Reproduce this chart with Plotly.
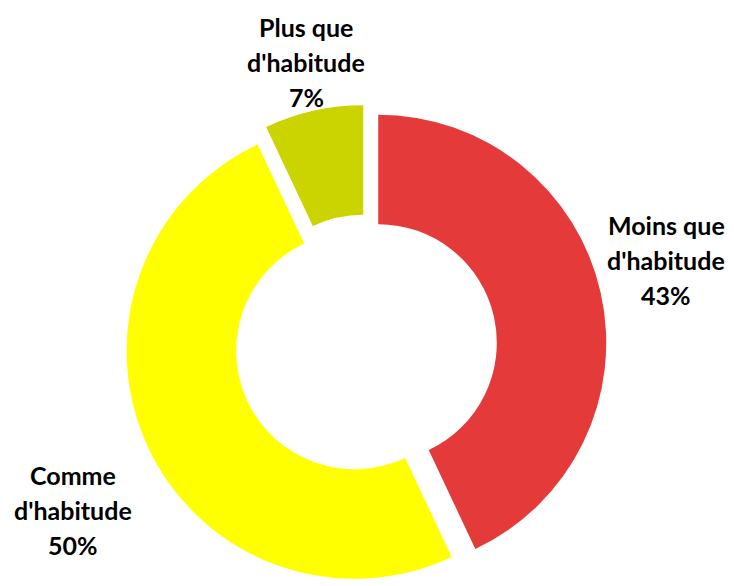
import plotly.graph_objects as go

W, H = 734, 586

categories = ["Moins que d'habitude", "Comme d'habitude", "Plus que d'habitude"]
label_lines = [["Moins que", "d'habitude"], ["Comme", "d'habitude"], ["Plus que", "d'habitude"]]
values = [43, 50, 7]
colors = ["#E53A3A", "#FFFF00", "#CCD400"]

# label block centres in pixels (x centre, first line y centre)
label_pos = [(666, 225), (73, 475), (306, 27)]
line_gap = 35

pull = 0.055
R = 228
cx = 366
box_half = R * (1 + pull)
dom_y = [0, 2 * box_half / H]
dom_x = [(cx - box_half) / W, (cx + box_half) / W]

fig = go.Figure(go.Pie(
    labels=categories,
    values=values,
    marker=dict(colors=colors, line=dict(width=0)),
    hole=0.52,
    pull=[pull] * len(values),
    sort=False,
    direction="clockwise",
    rotation=0,
    textinfo="none",
    hoverinfo="label+percent",
    domain=dict(x=dom_x, y=dom_y),
    showlegend=False,
))

annotations = []
for lines, v, (px, py) in zip(label_lines, values, label_pos):
    for k, t in enumerate(lines + [f"{v}%"]):
        annotations.append(dict(
            x=px / W, y=1 - (py + k * line_gap) / H, xref="paper", yref="paper",
            text=f"<b>{t}</b>", showarrow=False, xanchor="center", yanchor="middle",
            font=dict(family="Lato", size=25, color="#000000"),
        ))

fig.update_layout(
    width=W, height=H,
    margin=dict(l=0, r=0, t=0, b=0),
    paper_bgcolor="white", plot_bgcolor="white",
    annotations=annotations,
)

fig.write_html("out.html")
